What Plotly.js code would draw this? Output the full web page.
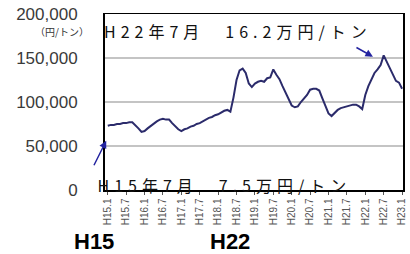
<!DOCTYPE html>
<html>
<head>
<meta charset="utf-8">
<script src="https://cdn.plot.ly/plotly-3.0.1.min.js"></script>
<style>
html,body{margin:0;padding:0;background:#fff;}
#chart{width:410px;height:254px;}
.annotation[data-index="0"] text, .annotation[data-index="1"] text{letter-spacing:5px;}
</style>
</head>
<body>
<div id="chart"></div>
<script>
// Monthly labels H15.1 .. H23.1
const months = [
 'H15.1','H15.2','H15.3','H15.4','H15.5','H15.6','H15.7','H15.8','H15.9','H15.10','H15.11','H15.12',
 'H16.1','H16.2','H16.3','H16.4','H16.5','H16.6','H16.7','H16.8','H16.9','H16.10','H16.11','H16.12',
 'H17.1','H17.2','H17.3','H17.4','H17.5','H17.6','H17.7','H17.8','H17.9','H17.10','H17.11','H17.12',
 'H18.1','H18.2','H18.3','H18.4','H18.5','H18.6','H18.7','H18.8','H18.9','H18.10','H18.11','H18.12',
 'H19.1','H19.2','H19.3','H19.4','H19.5','H19.6','H19.7','H19.8','H19.9','H19.10','H19.11','H19.12',
 'H20.1','H20.2','H20.3','H20.4','H20.5','H20.6','H20.7','H20.8','H20.9','H20.10','H20.11','H20.12',
 'H21.1','H21.2','H21.3','H21.4','H21.5','H21.6','H21.7','H21.8','H21.9','H21.10','H21.11','H21.12',
 'H22.1','H22.2','H22.3','H22.4','H22.5','H22.6','H22.7','H22.8','H22.9','H22.10','H22.11','H22.12',
 'H23.1'
];
// Price (円/トン)
const price = [
 73000,74000,74000,75000,75000,76000,76000,77000,77000,74000,70000,66000,
 67000,70000,73000,76000,78000,80000,81000,80000,80000,76000,72000,69000,
 67000,69000,70000,72000,73000,75000,76000,78000,80000,82000,83000,85000,
 86000,88000,90000,91000,89000,105000,125000,136000,138000,133000,121000,117000,
 121000,123000,124000,123000,127000,128000,137000,131000,126000,118000,111000,103000,
 96000,94000,95000,100000,104000,108000,114000,115000,115000,113000,104000,95000,
 87000,84000,88000,91000,93000,94000,95000,96000,97000,97000,95000,92000,
 108000,118000,125000,133000,137000,142000,153000,146000,138000,132000,124000,122000,
 115000
];
const xTicks = ['H15.1','H15.7','H16.1','H16.7','H17.1','H17.7','H18.1','H18.7','H19.1','H19.7','H20.1','H20.7','H21.1','H21.7','H22.1','H22.7','H23.1'];
const yTicks = [0, 50000, 100000, 150000, 200000];

const trace = {
  x: months, y: price, type: 'scatter', mode: 'lines',
  line: {color: '#2b2b6b', width: 2}, hoverinfo: 'skip'
};

const layout = {
  width: 410, height: 254,
  margin: {l: 105, r: 7, t: 14, b: 64},
  paper_bgcolor: '#fff', plot_bgcolor: '#fff',
  showlegend: false,
  font: {family: 'Liberation Sans, Arial, sans-serif', color: '#333'},
  xaxis: {
    type: 'category', range: [-0.9, 96.3],
    tickmode: 'array', tickvals: xTicks, ticktext: xTicks,
    tickangle: -90, tickfont: {size: 10, color: '#555'},
    ticks: 'outside', ticklen: 3, tickcolor: '#555',
    showgrid: false, showline: true, linecolor: '#000', linewidth: 1.5, mirror: true,
    zeroline: false
  },
  yaxis: {
    range: [0, 200000], tickmode: 'array', tickvals: yTicks,
    tickformat: ',d', tickfont: {size: 17, color: '#3a3a3a'},
    ticks: '', ticklabelstandoff: 22,
    showgrid: true, gridcolor: '#c4c4c4', gridwidth: 2,
    showline: true, linecolor: '#000', linewidth: 2, mirror: true,
    zeroline: false
  },
  annotations: [
    {xref: 'paper', yref: 'paper', x: 0.447, y: 0.905, xanchor: 'center', yanchor: 'middle',
     text: 'H22年7月　16.2万円/トン', showarrow: false,
     font: {family: 'Noto Sans CJK JP', size: 16, color: '#111'}},
    {xref: 'paper', yref: 'paper', x: 0.40, y: 0.03, xanchor: 'center', yanchor: 'middle',
     text: 'H15年7月　7.5万円/トン', showarrow: false,
     font: {family: 'Noto Sans CJK JP', size: 16, color: '#111'}},
    {xref: 'x', yref: 'y', x: 86.5, y: 151500, ax: -18, ay: -10, text: '',
     showarrow: true, arrowhead: 2, arrowsize: 1, arrowwidth: 1.5, arrowcolor: '#2424a0'},
    {xref: 'x', yref: 'y', x: -0.5, y: 56000, ax: -13, ay: 26, text: '',
     showarrow: true, arrowhead: 2, arrowsize: 1, arrowwidth: 1.5, arrowcolor: '#2424a0'},
    {xref: 'paper', yref: 'paper', x: -0.143, y: 0.9, xanchor: 'center', yanchor: 'middle',
     text: '（円/トン）', showarrow: false,
     font: {family: 'Noto Sans CJK JP', size: 10, color: '#333'}},
    {xref: 'paper', yref: 'paper', x: -0.037, y: -0.292, xanchor: 'center', yanchor: 'middle',
     text: '<b>H15</b>', showarrow: false,
     font: {family: 'Liberation Sans, Arial, sans-serif', size: 22, color: '#000'}},
    {xref: 'paper', yref: 'paper', x: 0.419, y: -0.292, xanchor: 'center', yanchor: 'middle',
     text: '<b>H22</b>', showarrow: false,
     font: {family: 'Liberation Sans, Arial, sans-serif', size: 22, color: '#000'}}
  ]
};

Plotly.newPlot('chart', [trace], layout, {displayModeBar: false, staticPlot: true});
</script>
</body>
</html>
